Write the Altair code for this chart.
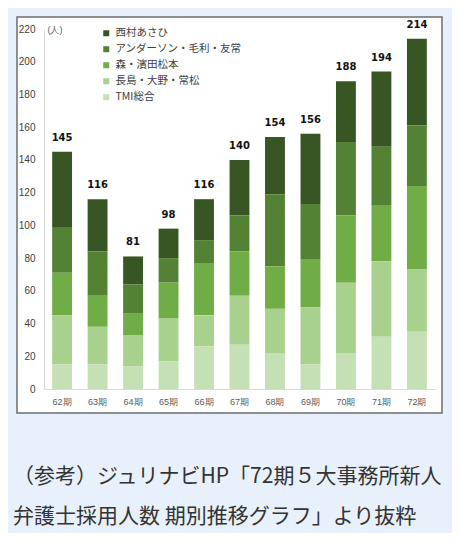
import altair as alt
import pandas as pd

periods = ["62期", "63期", "64期", "65期", "66期", "67期", "68期", "69期", "70期", "71期", "72期"]
firms = ["西村あさひ", "アンダーソン・毛利・友常", "森・濱田松本", "長島・大野・常松", "TMI総合"]
colors = ["#375623", "#548235", "#70AD47", "#A9D18E", "#C5E0B4"]

nishimura = [46, 32, 17, 18, 25, 34, 35, 43, 37, 46, 53]
anderson = [28, 27, 18, 15, 14, 22, 44, 34, 45, 36, 37]
mori = [26, 19, 13, 22, 32, 27, 26, 29, 41, 34, 51]
nagashima = [30, 23, 19, 26, 19, 30, 27, 35, 43, 46, 38]
tmi = [15, 15, 14, 17, 26, 27, 22, 15, 22, 32, 35]
y_ticks = [0, 20, 40, 60, 80, 100, 120, 140, 160, 180, 200, 220]

series = [nishimura, anderson, mori, nagashima, tmi]
stack_rank = [4, 3, 2, 1, 0]

rows = []
for firm, vals, rank in zip(firms, series, stack_rank):
    for p, v in zip(periods, vals):
        rows.append({"期": p, "事務所": firm, "人数": v, "順": rank})
df = pd.DataFrame(rows)

caption = ["（参考）ジュリナビHP「72期５大事務所新人", "弁護士採用人数 期別推移グラフ」より抜粋"]

W, H = 391, 360

y_axis = alt.Axis(values=y_ticks, grid=False, ticks=False,
                  labelOverlap=False, labelFlush=False,
                  domainColor="#d9d9d9", labelColor="#404040", labelFontSize=10,
                  labelFont="Liberation Sans", labelPadding=9, zindex=1,
                  title="(人)", titleAngle=0, titleX=3, titleY=0,
                  titleAlign="left", titleBaseline="middle", titleFontSize=9,
                  titleFontWeight="normal", titleColor="#595959",
                  titleFont="Liberation Sans")
x_axis = alt.Axis(title=None, labelAngle=0, ticks=False, domainColor="#d9d9d9",
                  labelColor="#595959", labelFontSize=9, labelFont="Liberation Sans",
                  labelPadding=8, zindex=1)

panel = alt.Chart(pd.DataFrame({"k": [0]})).mark_rect(
    fill="white", stroke="#6e6e6e", strokeWidth=1.5
).encode(
    x=alt.value(-27), x2=alt.value(398), y=alt.value(-12), y2=alt.value(384)
)

bars = alt.Chart(df).mark_bar().encode(
    x=alt.X("期:N", sort=periods,
            scale=alt.Scale(paddingInner=0.44, paddingOuter=0.23),
            axis=x_axis),
    y=alt.Y("人数:Q", stack="zero",
            scale=alt.Scale(domain=[0, 220], nice=False),
            axis=y_axis),
    color=alt.Color("事務所:N", scale=alt.Scale(domain=firms, range=colors),
                    legend=alt.Legend(title=None, orient="none", legendX=57, legendY=-1,
                                      symbolType="square", symbolSize=36,
                                      symbolStrokeWidth=0, labelFontSize=10.5,
                                      labelColor="#404040", labelFont="Noto Sans CJK JP",
                                      rowPadding=5, labelOffset=4)),
    order=alt.Order("順:Q", sort="ascending"),
)

totals = alt.Chart(df).transform_aggregate(
    total="sum(人数)", groupby=["期"]
).mark_text(
    fontWeight="bold", fontSize=10, font="DejaVu Sans", color="#111111",
    baseline="middle", dy=-14
).encode(
    x=alt.X("期:N", sort=periods, axis=x_axis),
    y=alt.Y("total:Q", axis=y_axis),
    text=alt.Text("total:Q"),
)

chart = alt.layer(panel, bars, totals).properties(
    width=W, height=H,
    padding={"left": 36, "top": 21, "right": 17, "bottom": 144},
    autosize=alt.AutoSizeParams(type="none"),
    background="#e8f1fb",
    title=alt.TitleParams(
        text=caption, orient="bottom", anchor="start", frame="group",
        fontSize=21, font="Noto Sans CJK JP", fontWeight="normal", color="#333333",
        lineHeight=40, offset=52, dx=-31, baseline="top"
    ),
).configure_view(stroke=None).configure_axis(labelOverlap=False)

chart.save("out.html", embed_options={"renderer": "svg", "actions": False})
